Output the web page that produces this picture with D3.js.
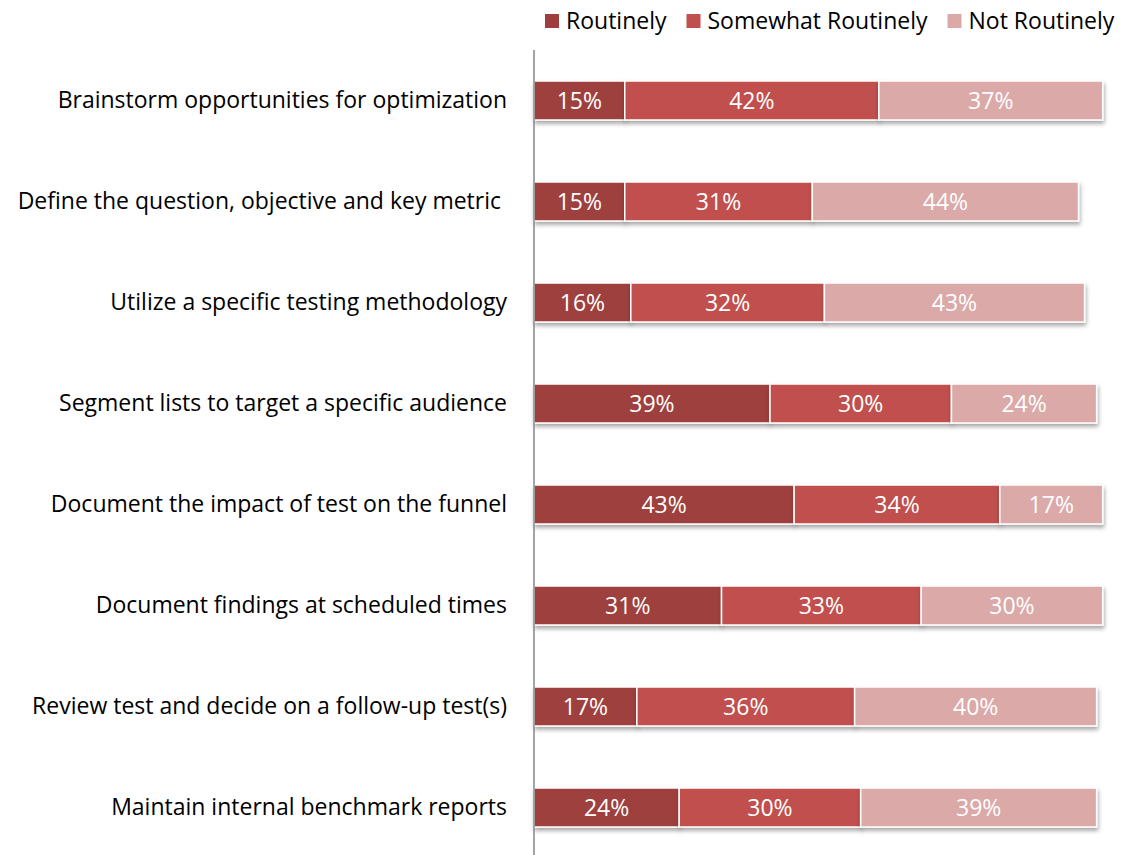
<!DOCTYPE html>
<html>
<head>
<meta charset="utf-8">
<script src="https://cdn.jsdelivr.net/npm/d3@7"></script>
<style>
  html, body { margin: 0; padding: 0; background: #fff; }
  svg { display: block; font-family: "Open Sans", Lato, sans-serif; }
</style>
</head>
<body>
<svg id="chart" width="1125" height="855"></svg>
<script>
// Survey activities and share of respondents per frequency (%)
const activities = [
  "Brainstorm opportunities for optimization",
  "Define the question, objective and key metric ",
  "Utilize a specific testing methodology",
  "Segment lists to target a specific audience",
  "Document the impact of test on the funnel",
  "Document findings at scheduled times",
  "Review test and decide on a follow-up test(s)",
  "Maintain internal benchmark reports"
];
const routinely         = [15, 15, 16, 39, 43, 31, 17, 24];
const somewhatRoutinely = [42, 31, 32, 30, 34, 33, 36, 30];
const notRoutinely      = [37, 44, 43, 24, 17, 30, 40, 39];
const seriesNames  = ["Routinely", "Somewhat Routinely", "Not Routinely"];
const seriesColors = ["#9e3f3e", "#c0504d", "#daa9a8"];

const rows = activities.map((a, i) => ({
  activity: a,
  "Routinely": routinely[i],
  "Somewhat Routinely": somewhatRoutinely[i],
  "Not Routinely": notRoutinely[i]
}));

const svg = d3.select("#chart");
const axisX = 534;
const fontSize = 23;

const x = d3.scaleLinear().domain([0, 100]).range([axisX, axisX + 605]);
const y = d3.scaleBand().domain(activities).range([50, 858])
  .paddingInner(0.614).paddingOuter(0.307);
const color = d3.scaleOrdinal().domain(seriesNames).range(seriesColors);

const stack = d3.stack().keys(seriesNames)(rows);

// soft shadow under each segment
const defs = svg.append("defs");
const f = defs.append("filter").attr("id", "shadow")
  .attr("x", "-5%").attr("y", "-20%").attr("width", "110%").attr("height", "160%");
f.append("feDropShadow").attr("dx", 1).attr("dy", 3).attr("stdDeviation", 2)
  .attr("flood-color", "#000").attr("flood-opacity", 0.35);

const layers = svg.append("g").selectAll("g").data(stack).join("g")
  .attr("fill", d => color(d.key));

layers.selectAll("rect").data(d => d).join("rect")
  .attr("x", d => x(d[0]))
  .attr("y", d => y(d.data.activity))
  .attr("width", d => x(d[1]) - x(d[0]))
  .attr("height", y.bandwidth())
  .attr("stroke", "#fff").attr("stroke-width", 1.5)
  .attr("filter", "url(#shadow)");

// value labels
const labels = svg.append("g");
stack.forEach(layer => {
  labels.selectAll(null).data(layer).join("text")
    .attr("x", d => (x(d[0]) + x(d[1])) / 2)
    .attr("y", d => y(d.data.activity) + y.bandwidth() / 2)
    .attr("dy", "0.36em")
    .attr("text-anchor", "middle")
    .attr("fill", "#fff")
    .attr("font-size", fontSize)
    .text(d => (d[1] - d[0]) + "%");
});

// category axis
const yAxis = d3.axisLeft(y).tickSize(0).tickPadding(27);
const gAxis = svg.append("g").attr("transform", `translate(${axisX},0)`).call(yAxis);
gAxis.select(".domain").remove();
gAxis.selectAll("text").attr("font-size", fontSize).attr("fill", "#000")
  .attr("font-family", "'Open Sans', Lato, sans-serif")
  .style("white-space", "pre").attr("xml:space", "preserve");
svg.append("line")
  .attr("x1", axisX).attr("x2", axisX).attr("y1", 50).attr("y2", 855)
  .attr("stroke", "#868686").attr("stroke-width", 1.5);

// legend, laid out left to right from measured text widths
const legend = svg.append("g");
let lx = 545;
seriesNames.forEach(name => {
  legend.append("rect").attr("x", lx).attr("y", 14).attr("width", 14).attr("height", 14)
    .attr("fill", color(name));
  const t = legend.append("text").attr("x", lx + 21).attr("y", 21).attr("dy", "0.36em")
    .attr("font-size", fontSize).attr("fill", "#000").text(name);
  lx += 21 + t.node().getComputedTextLength() + 20;
});
</script>
</body>
</html>
